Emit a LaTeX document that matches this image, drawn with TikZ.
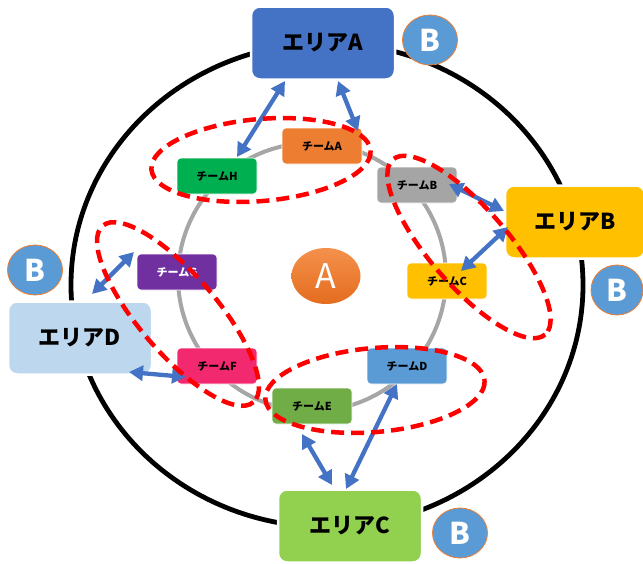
\documentclass[tikz,border=0pt]{standalone}
\usepackage{fontspec}
\newfontfamily\jp{Noto Sans CJK JP}
\usetikzlibrary{arrows.meta,shapes.geometric}
\definecolor{areaAc}{HTML}{4472C4}
\definecolor{areaBc}{HTML}{FFC000}
\definecolor{areaCc}{HTML}{92D050}
\definecolor{areaDc}{HTML}{BDD7EE}
\definecolor{teamAc}{HTML}{ED7D31}
\definecolor{teamBc}{HTML}{A5A5A5}
\definecolor{teamCc}{HTML}{FFC000}
\definecolor{teamDc}{HTML}{5B9BD5}
\definecolor{teamEc}{HTML}{70AD47}
\definecolor{teamFc}{HTML}{F2296F}
\definecolor{teamGc}{HTML}{7030A0}
\definecolor{teamHc}{HTML}{00B050}
\definecolor{bblue}{HTML}{5B9BD5}
\definecolor{borange}{HTML}{ED7D31}
\definecolor{linkblue}{HTML}{4472C4}
\definecolor{ringgray}{HTML}{A6A6A6}
\definecolor{coretop}{HTML}{F4914C}
\definecolor{corebot}{HTML}{E46C1E}
\begin{document}
\begin{tikzpicture}[x=1pt,y=-1pt,
  area/.style={rounded corners=9pt, draw=white, line width=2.5pt, minimum width=144pt, minimum height=73pt, inner sep=0pt, font=\jp\bfseries\fontsize{22}{26}\selectfont},
  team/.style={rounded corners=4pt, draw=white, line width=0.6pt, minimum width=80pt, minimum height=36pt, inner sep=0pt, font=\jp\bfseries\fontsize{11}{13}\selectfont},
  bball/.style={ellipse, fill=bblue, draw=borange, line width=0.8pt, minimum width=55pt, minimum height=50pt, inner sep=0pt, text=white, font=\jp\bfseries\fontsize{30}{30}\selectfont},
  link/.style={draw=linkblue, line width=4.3pt, {Triangle[length=14pt,width=15pt]}-{Triangle[length=14pt,width=15pt]}},
  group/.style={draw=red, line width=4.5pt, dash pattern=on 13pt off 7pt},
]
\useasboundingbox (0,0) rectangle (643,563);
% rings
\draw[line width=4.8pt] (327,285) ellipse[x radius=256, y radius=242];
\draw[ringgray, line width=4pt] (312,277) circle[radius=134];
% areas
\node[area, fill=areaAc] (areaA) at (323,43) {エリアA};
\node[area, fill=areaBc, minimum width=140pt] (areaB) at (575,222) {エリアB};
\node[area, fill=areaCc] (areaC) at (350,526) {エリアC};
\node[area, fill=areaDc] (areaD) at (80,338) {エリアD};
% B balls
\node[bball] (bA) at (430,40) {B};
\node[bball, minimum width=52pt] (bB) at (617,290) {B};
\node[bball] (bC) at (460,533) {B};
\node[bball] (bD) at (35,270) {B};
% center A
\node[ellipse, minimum width=69pt, minimum height=56pt, inner sep=0pt, top color=coretop, bottom color=corebot, text=white, font=\jp\fontsize{34}{34}\selectfont] (core) at (326,276) {A};
% teams
\node[team, fill=teamAc] (tA) at (322,146) {チームA};
\node[team, fill=teamBc] (tB) at (417,185) {チームB};
\node[team, fill=teamCc] (tC) at (447,281) {チームC};
\node[team, fill=teamDc] (tD) at (407,366) {チームD};
\node[team, fill=teamEc] (tE) at (312,406) {チームE};
\node[team, fill=teamFc] (tF) at (217,366) {チームF};
\node[team, fill=teamGc, text=white] (tG) at (177,272) {チームG};
\node[team, fill=teamHc] (tH) at (217,176) {チームH};
% link ends
\coordinate (a1s) at (285,81);  \coordinate (a1e) at (237,157);
\coordinate (a2s) at (338,81);  \coordinate (a2e) at (358,131);
\coordinate (b1s) at (449,184); \coordinate (b1e) at (504,211);
\coordinate (b2s) at (508,227); \coordinate (b2e) at (461,271);
\coordinate (c1s) at (302,434); \coordinate (c1e) at (332,485);
\coordinate (c2s) at (346,489); \coordinate (c2e) at (397,384);
\coordinate (d1s) at (129,372); \coordinate (d1e) at (186,377);
\coordinate (d2s) at (134,252); \coordinate (d2e) at (92,294);
\draw[link] (a1s) -- (a1e);
\draw[link] (a2s) -- (a2e);
\draw[link] (b1s) -- (b1e);
\draw[link] (b2s) -- (b2e);
\draw[link] (c1s) -- (c1e);
\draw[link] (c2s) -- (c2e);
\draw[link] (d1s) -- (d1e);
\draw[link] (d2s) -- (d2e);
% groups
\draw[group, rotate around={5:(261,160)}] (261,160) ellipse[x radius=110, y radius=41];
\draw[group, rotate around={-49:(469,247)}] (469,247) ellipse[x radius=116, y radius=39];
\draw[group, rotate around={-49.5:(178,314)}] (178,314) ellipse[x radius=116, y radius=39];
\draw[group, rotate around={5:(375,390)}] (375,390) ellipse[x radius=110, y radius=42];
\end{tikzpicture}
\end{document}
